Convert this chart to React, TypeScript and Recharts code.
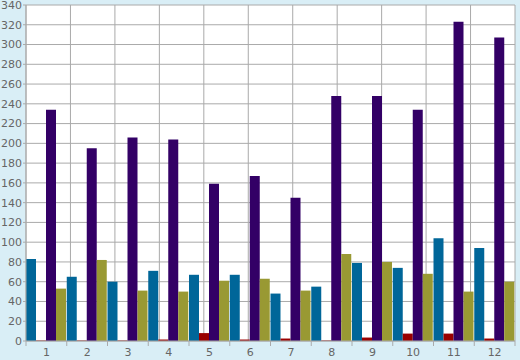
import React from "react";
import { BarChart, Bar, XAxis, YAxis, ReferenceLine } from "recharts";

const categories = ["1", "2", "3", "4", "5", "6", "7", "8", "9", "10", "11", "12"];
const blueValues = [83, 65, 60, 71, 67, 67, 48, 55, 79, 74, 104, 94];
const redValues = [0.5, 0.5, 0.5, 1.5, 8, 1.5, 2.5, 0.5, 3.5, 7.5, 7.5, 2.5];
const purpleValues = [234, 195, 206, 204, 159, 167, 145, 248, 248, 234, 323, 307];
const oliveValues = [53, 82, 51, 50, 61, 63, 51, 88, 80, 68, 50, 60];
const yTicks = [0, 20, 40, 60, 80, 100, 120, 140, 160, 180, 200, 220, 240, 260, 280, 300, 320, 340];
const boundaries = [0, 1, 2, 3, 4, 5, 6, 7, 8, 9, 10, 11, 12];

const data = categories.map((c, i) => ({
  cat: c,
  blue: blueValues[i],
  red: redValues[i],
  purple: purpleValues[i],
  olive: oliveValues[i],
}));

const W = 520;
const H = 360;
const M = { top: 5, right: 5, left: 0, bottom: 0 };
const Y_W = 26;
const X_H = 19;
const PLOT_W = W - M.left - M.right - Y_W;
const PLOT_H = H - M.top - M.bottom - X_H;
const BW = PLOT_W / categories.length;
const GRID = "#aaaaaa";
const TXT = "#666666";

const XTick = (props: any) => {
  const { x, payload, index } = props;
  const left = x - BW / 2;
  const axisY = M.top + PLOT_H;
  return (
    <g>
      <line x1={left} x2={left} y1={axisY} y2={axisY + 5} stroke={GRID} strokeWidth={1} />
      {index === categories.length - 1 && (
        <line x1={x + BW / 2} x2={x + BW / 2} y1={axisY} y2={axisY + 5} stroke={GRID} strokeWidth={1} />
      )}
      <text x={x} y={axisY + 15} textAnchor="middle" fill={TXT} fontSize={11} fontFamily="DejaVu Sans">
        {payload.value}
      </text>
    </g>
  );
};

const layer: React.CSSProperties = { position: "absolute", left: 0, top: 0 };

export default function App() {
  return (
    <div style={{ position: "fixed", left: 0, top: 0, width: W, height: H, background: "#d9eef6" }}>
      <div
        style={{
          position: "absolute",
          left: M.left + Y_W,
          top: M.top,
          width: PLOT_W,
          height: PLOT_H,
          background: "#ffffff",
        }}
      />
      {/* grid layer (behind the bars) */}
      <div style={layer}>
        <BarChart width={W} height={H} data={data} margin={M} barCategoryGap={0} barGap={0}>
          <XAxis dataKey="cat" height={X_H} tick={false} tickLine={false} axisLine={false} />
          <XAxis xAxisId="grid" type="number" domain={[0, 12]} hide />
          <YAxis width={Y_W} domain={[0, 340]} ticks={yTicks} tick={false} tickLine={false} axisLine={false} />
          <Bar dataKey="purple" fill="none" fillOpacity={0} isAnimationActive={false} />
          {yTicks.map((v) => (
            <ReferenceLine key={"h" + v} y={v} stroke={GRID} />
          ))}
          {boundaries.map((b) => (
            <ReferenceLine key={"v" + b} x={b} xAxisId="grid" stroke={GRID} />
          ))}
        </BarChart>
      </div>
      {/* bars and axes layer */}
      <div style={layer}>
        <BarChart width={W} height={H} data={data} margin={M} barCategoryGap={0} barGap={0}>
          <XAxis
            dataKey="cat"
            height={X_H}
            tickLine={false}
            axisLine={{ stroke: GRID }}
            tick={<XTick />}
            interval={0}
          />
          <YAxis
            width={Y_W}
            domain={[0, 340]}
            ticks={yTicks}
            interval={0}
            tickSize={3}
            tickMargin={1}
            axisLine={{ stroke: GRID }}
            tickLine={{ stroke: GRID }}
            tick={{ fill: TXT, fontSize: 11, fontFamily: "DejaVu Sans" }}
          />
          <Bar dataKey="blue" fill="#006699" isAnimationActive={false} />
          <Bar dataKey="red" fill="#990000" isAnimationActive={false} />
          <Bar dataKey="purple" fill="#330066" isAnimationActive={false} />
          <Bar dataKey="olive" fill="#999933" isAnimationActive={false} />
        </BarChart>
      </div>
    </div>
  );
}
